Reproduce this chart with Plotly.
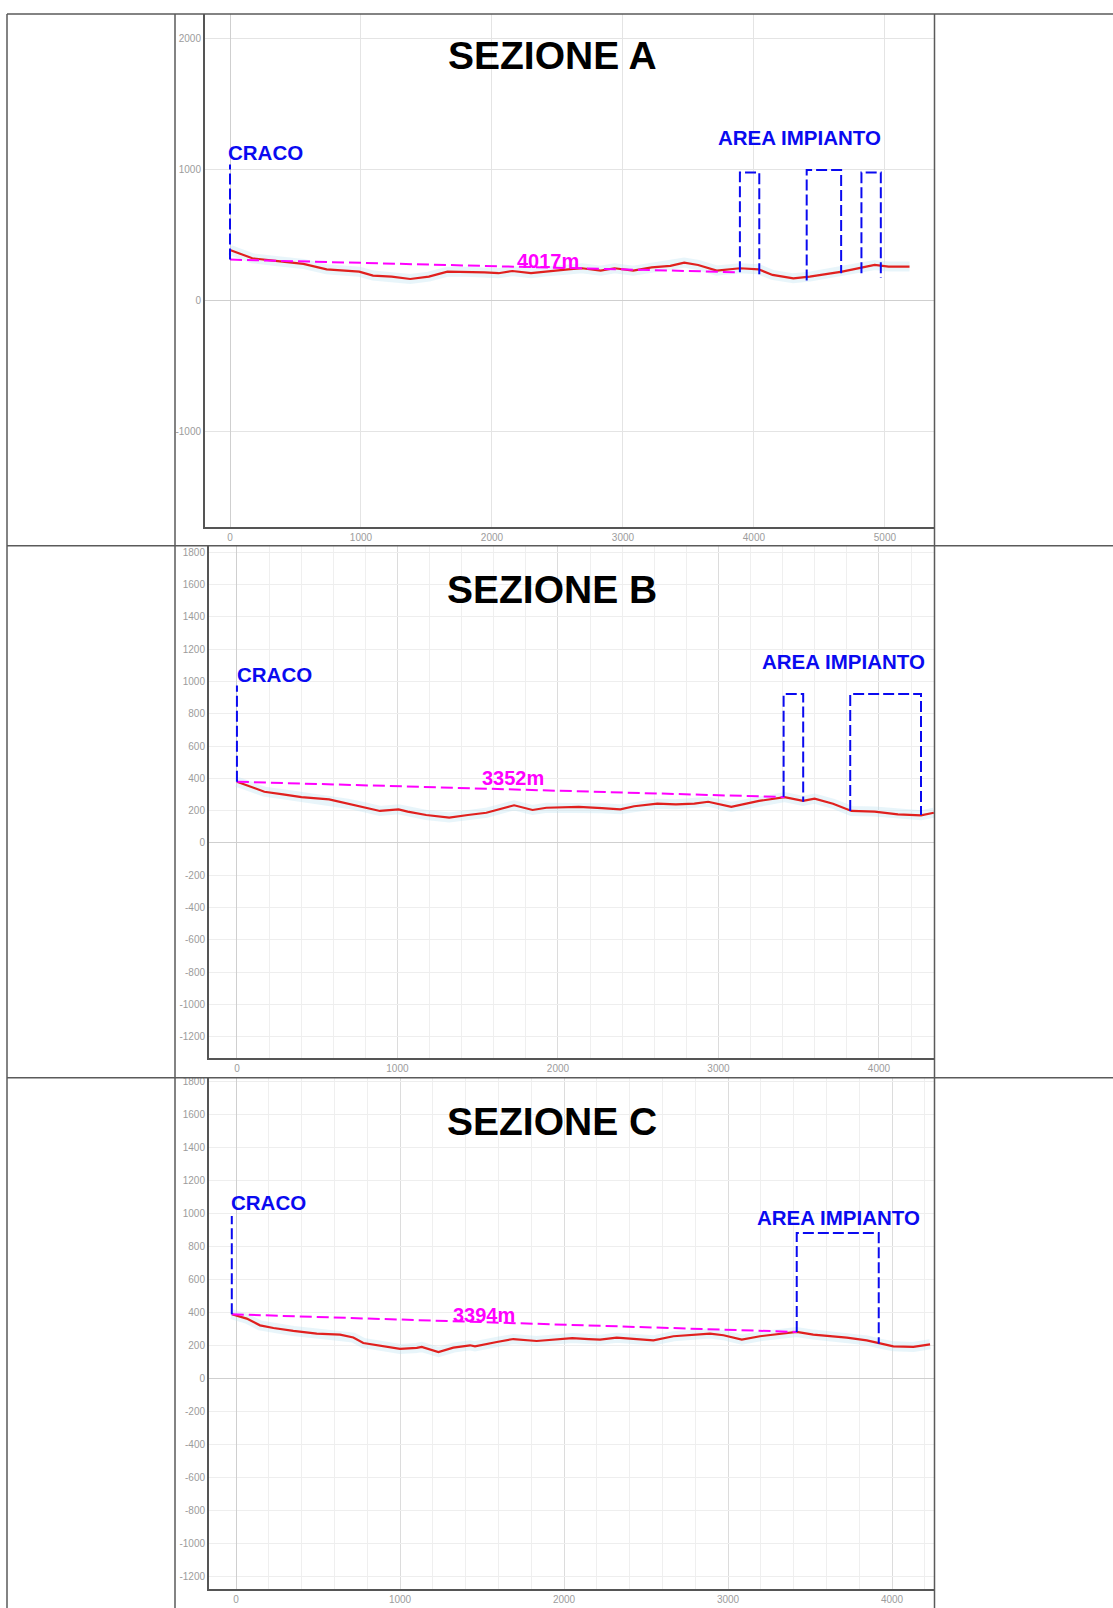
import plotly.graph_objects as go

# ---------------- DATA ----------------
sections = ["SEZIONE A", "SEZIONE B", "SEZIONE C"]

# Section A profile (distance m, elevation m)
A_dist = [0, 170, 348, 560, 738, 879, 986, 1092, 1234, 1376, 1518, 1660, 1801, 1943, 2050, 2156, 2298, 2404,
          2582, 2688, 2830, 2936, 3078, 3220, 3362, 3468, 3574, 3716, 3894, 4035, 4142, 4301, 4426, 4674,
          4816, 4922, 5028, 5188]
A_elev = [387, 323, 303, 280, 239, 229, 221, 191, 183, 165, 183, 221, 221, 216, 209, 226, 209, 221,
          239, 247, 229, 247, 229, 254, 265, 290, 272, 229, 247, 239, 196, 170, 183, 221,
          247, 272, 260, 260]
A_chord_x = [0, 3893]
A_chord_y = [313, 216]
A_chord_label = "4017m"
A_craco_x = 0
A_craco_y = [313, 1040]
A_box_left = [3893, 4403, 4821]
A_box_right = [4041, 4666, 4969]
A_box_top = [979, 998, 979]
A_box_bl = [216, 153, 209]
A_box_br = [175, 209, 175]

# Section B profile
B_dist = [0, 85, 171, 287, 402, 574, 690, 805, 891, 1007, 1064, 1179, 1323, 1439, 1554, 1727, 1842, 1928,
          2130, 2274, 2389, 2475, 2619, 2735, 2850, 2936, 3080, 3253, 3412, 3527, 3599, 3714, 3829, 3973,
          4118, 4262, 4342]
B_elev = [379, 346, 317, 301, 284, 270, 243, 218, 198, 208, 194, 173, 157, 173, 187, 233, 204, 218,
          223, 215, 208, 227, 243, 239, 243, 255, 223, 260, 284, 260, 274, 243, 198, 194,
          177, 171, 187]
B_chord_x = [0, 3412]
B_chord_y = [379, 284]
B_chord_label = "3352m"
B_craco_x = 0
B_craco_y = [379, 975]
B_box_left = [3406, 3821]
B_box_right = [3528, 4262]
B_box_top = [923, 923]
B_box_bl = [286, 198]
B_box_br = [255, 173]

# Section C profile
C_dist = [-26, 65, 146, 228, 349, 492, 634, 715, 776, 898, 1000, 1102, 1132, 1234, 1325, 1427, 1457, 1590,
          1691, 1833, 1915, 2050, 2150, 2220, 2321, 2423, 2545, 2667, 2890, 2972, 3084, 3195, 3317, 3419,
          3520, 3724, 3846, 3927, 4008, 4130, 4232]
C_elev = [388, 362, 321, 305, 287, 271, 265, 247, 214, 194, 178, 184, 190, 159, 186, 200, 194, 220,
          238, 226, 234, 244, 238, 234, 246, 240, 230, 255, 271, 261, 234, 255, 267, 281,
          265, 246, 230, 210, 194, 190, 206]
C_chord_x = [-26, 3419]
C_chord_y = [388, 281]
C_chord_label = "3394m"
C_craco_x = -26
C_craco_y = [388, 985]
C_box_left = [3419]
C_box_right = [3919]
C_box_top = [881]
C_box_bl = [281]
C_box_br = [210]

# Tick values / labels
A_xticks = [0, 1000, 2000, 3000, 4000, 5000]
A_yticks = [2000, 1000, 0, -1000]
BC_xticks = [0, 1000, 2000, 3000, 4000]
BC_yticks = [1800, 1600, 1400, 1200, 1000, 800, 600, 400, 200, 0, -200, -400, -600, -800, -1000, -1200]

# label positions (data coords)
A_label_pos = dict(chord=(2430, 305), craco=(-30, 1130), area=(4350, 1248))
B_label_pos = dict(chord=(1718, 404), craco=(-12, 1042), area=(3778, 1122))
C_label_pos = dict(chord=(1512, 382), craco=(-43, 1067), area=(3671, 978))

# ---------------- FIGURE ----------------
W, H = 1113, 1608
RED = "#e0201e"
BLUE = "#0a0af0"
MAG = "#ff00ff"
FONT = "Liberation Sans, Arial, sans-serif"

fig = go.Figure()

panels = [
    dict(ax="", dist=A_dist, elev=A_elev, cx=A_chord_x, cy=A_chord_y, cl=A_chord_label,
         crx=A_craco_x, cry=A_craco_y, bl=A_box_left, br=A_box_right, bt=A_box_top,
         bbl=A_box_bl, bbr=A_box_br, pos=A_label_pos),
    dict(ax="2", dist=B_dist, elev=B_elev, cx=B_chord_x, cy=B_chord_y, cl=B_chord_label,
         crx=B_craco_x, cry=B_craco_y, bl=B_box_left, br=B_box_right, bt=B_box_top,
         bbl=B_box_bl, bbr=B_box_br, pos=B_label_pos),
    dict(ax="3", dist=C_dist, elev=C_elev, cx=C_chord_x, cy=C_chord_y, cl=C_chord_label,
         crx=C_craco_x, cry=C_craco_y, bl=C_box_left, br=C_box_right, bt=C_box_top,
         bbl=C_box_bl, bbr=C_box_br, pos=C_label_pos),
]

annotations = []
for p in panels:
    xa, ya = "x" + p["ax"], "y" + p["ax"]
    # faint halo
    fig.add_trace(go.Scatter(x=p["dist"], y=p["elev"], xaxis=xa, yaxis=ya, mode="lines",
                             line=dict(color="rgba(190,225,240,0.35)", width=10), hoverinfo="skip",
                             showlegend=False))
    fig.add_trace(go.Scatter(x=p["dist"], y=p["elev"], xaxis=xa, yaxis=ya, mode="lines",
                             line=dict(color=RED, width=2.2), showlegend=False))
    # chord
    fig.add_trace(go.Scatter(x=p["cx"], y=p["cy"], xaxis=xa, yaxis=ya, mode="lines",
                             line=dict(color=MAG, width=2, dash="12px,5px"), showlegend=False))
    # craco marker
    fig.add_trace(go.Scatter(x=[p["crx"], p["crx"]], y=p["cry"], xaxis=xa, yaxis=ya, mode="lines",
                             line=dict(color=BLUE, width=2, dash="11px,4px"), showlegend=False))
    # boxes
    for l, r, t, b1, b2 in zip(p["bl"], p["br"], p["bt"], p["bbl"], p["bbr"]):
        fig.add_trace(go.Scatter(x=[l, l, r, r], y=[b1, t, t, b2], xaxis=xa, yaxis=ya, mode="lines",
                                 line=dict(color=BLUE, width=2, dash="11px,4px"), showlegend=False))
    pos = p["pos"]
    annotations.append(dict(x=pos["chord"][0], y=pos["chord"][1], xref=xa, yref=ya, text=p["cl"],
                            xanchor="center", yanchor="middle", showarrow=False,
                            font=dict(family=FONT, size=20, color=MAG, weight="bold")))
    annotations.append(dict(x=pos["craco"][0], y=pos["craco"][1], xref=xa, yref=ya, text="CRACO",
                            xanchor="left", yanchor="middle", showarrow=False,
                            font=dict(family=FONT, size=20.5, color=BLUE, weight="bold")))
    annotations.append(dict(x=pos["area"][0], y=pos["area"][1], xref=xa, yref=ya, text="AREA IMPIANTO",
                            xanchor="center", yanchor="middle", showarrow=False,
                            font=dict(family=FONT, size=20.5, color=BLUE, weight="bold")))

# titles
title_y_px = [54, 588, 1121]
for name, ty in zip(sections, title_y_px):
    annotations.append(dict(x=552 / W, y=1 - ty / H, xref="paper", yref="paper", text=name,
                            xanchor="center", yanchor="middle", showarrow=False,
                            font=dict(family=FONT, size=39, color="black", weight="bold")))


def fmt(v):
    return str(v)


tickfont = dict(family=FONT, size=10, color="#9c9c9c")
common = dict(showline=True, linecolor="#555555", linewidth=2, mirror=False, ticks="",
              tickfont=tickfont, zeroline=True, zerolinecolor="#cfcfcf", zerolinewidth=1,
              showgrid=True, fixedrange=True)

pxl = lambda a, b: [a / W, b / W]
pyl = lambda top, bot: [1 - bot / H, 1 - top / H]

fig.update_layout(
    width=W, height=H, autosize=False,
    margin=dict(l=0, r=0, t=0, b=0),
    paper_bgcolor="white", plot_bgcolor="white",
    showlegend=False,
    xaxis=dict(domain=pxl(205, 934), range=[-191, 5375], anchor="y",
               tickmode="array", tickvals=A_xticks, ticktext=[fmt(v) for v in A_xticks],
               gridcolor="#e4e4e4", gridwidth=1, **common),
    yaxis=dict(domain=pyl(12, 526), range=[-1733, 2190], anchor="x",
               tickmode="array", tickvals=A_yticks, ticktext=[fmt(v) for v in A_yticks],
               gridcolor="#e4e4e4", gridwidth=1, **common),
    xaxis2=dict(domain=pxl(209, 934), range=[-174, 4343], anchor="y2",
                tickmode="array", tickvals=BC_xticks, ticktext=[fmt(v) for v in BC_xticks],
                gridcolor="#dcdcdc", gridwidth=1,
                minor=dict(dtick=200, tick0=0, showgrid=True, gridcolor="#efefef", gridwidth=1),
                **common),
    yaxis2=dict(domain=pyl(544, 1057), range=[-1330, 1843], anchor="x2",
                tickmode="array", tickvals=BC_yticks, ticktext=[fmt(v) for v in BC_yticks],
                gridcolor="#eeeeee", gridwidth=1, **common),
    xaxis3=dict(domain=pxl(209, 934), range=[-165, 4256], anchor="y3",
                tickmode="array", tickvals=BC_xticks, ticktext=[fmt(v) for v in BC_xticks],
                gridcolor="#dcdcdc", gridwidth=1,
                minor=dict(dtick=200, tick0=0, showgrid=True, gridcolor="#efefef", gridwidth=1),
                **common),
    yaxis3=dict(domain=pyl(1077, 1589), range=[-1279, 1824], anchor="x3",
                tickmode="array", tickvals=BC_yticks, ticktext=[fmt(v) for v in BC_yticks],
                gridcolor="#eeeeee", gridwidth=1, **common),
    annotations=annotations,
)

# table lines (paper coords)
TL = dict(color="#5a5a5a", width=1.5)
shapes = []
for xpx in [7, 175, 934.5]:
    shapes.append(dict(type="line", xref="paper", yref="paper", x0=xpx / W, x1=xpx / W, y0=0, y1=1 - 12 / H,
                       line=TL, layer="above"))
for ypx in [12, 544.5, 1077]:
    shapes.append(dict(type="line", xref="paper", yref="paper", x0=7 / W, x1=1, y0=1 - ypx / H, y1=1 - ypx / H,
                       line=TL, layer="above"))
fig.update_layout(shapes=shapes)

fig.write_html(
    "out.html",
    config={"displayModeBar": False},
    post_script="document.body.style.margin='0';document.body.style.padding='0';"
                "document.documentElement.style.overflow='hidden';",
)
